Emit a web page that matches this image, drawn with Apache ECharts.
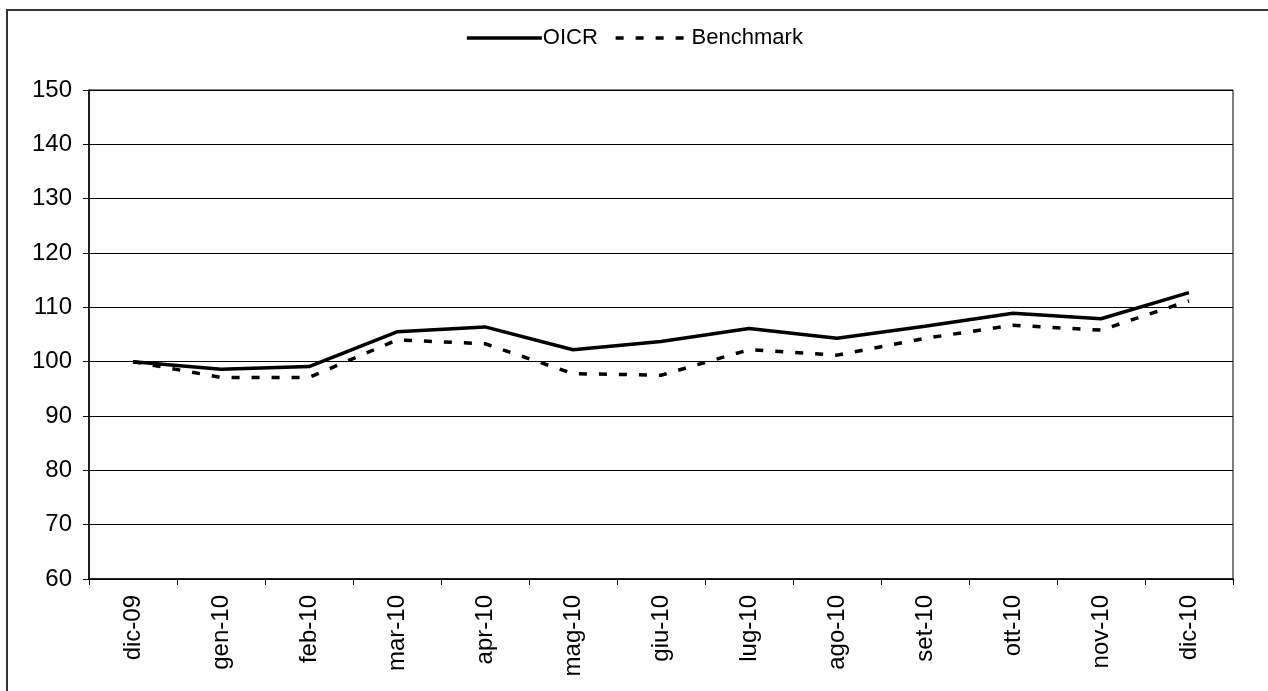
<!DOCTYPE html>
<html>
<head>
<meta charset="utf-8">
<script src="https://cdn.jsdelivr.net/npm/echarts@6/dist/echarts.min.js"></script>
<style>
html,body{margin:0;padding:0;background:#fff;}
#chart{width:1268px;height:691px;}
</style>
</head>
<body>
<div id="chart"></div>
<script>
const categories = ['dic-09','gen-10','feb-10','mar-10','apr-10','mag-10','giu-10','lug-10','ago-10','set-10','ott-10','nov-10','dic-10'];
const oicr = [100, 98.6, 99.1, 105.5, 106.4, 102.2, 103.7, 106.1, 104.3, 106.5, 108.9, 107.9, 112.7];
const benchmark = [100, 97.1, 97.1, 104.0, 103.3, 97.8, 97.5, 102.2, 101.2, 104.3, 106.7, 105.8, 111.2];
const yTicks = [60, 70, 80, 90, 100, 110, 120, 130, 140, 150];

const FONT = 'Liberation Sans, Arial, sans-serif';
const chart = echarts.init(document.getElementById('chart'), null, {renderer: 'canvas'});
chart.setOption({
  animation: false,
  backgroundColor: '#fff',
  graphic: [{
    type: 'rect',
    shape: {x: 7, y: 10, width: 1300, height: 720},
    style: {fill: 'none', stroke: '#333', lineWidth: 2},
    silent: true
  }],
  legend: {
    top: 22,
    left: 'center',
    itemWidth: 75,
    itemHeight: 10,
    itemGap: 16,
    itemStyle: {opacity: 0},
    lineStyle: {width: 3.5},
    textStyle: {fontFamily: FONT, fontSize: 22, color: '#000', padding: [0, 0, 0, -4]},
    data: ['OICR', 'Benchmark']
  },
  grid: {left: 89, right: 35, top: 90, bottom: 112, show: true, borderColor: '#000', borderWidth: 1},
  xAxis: {
    type: 'category',
    data: categories,
    boundaryGap: true,
    axisLine: {lineStyle: {color: '#000', width: 1.5}},
    axisTick: {show: true, length: 6, lineStyle: {color: '#000', width: 1}},
    axisLabel: {rotate: 90, margin: 16, fontFamily: FONT, fontSize: 24, color: '#000', interval: 0},
    splitLine: {show: false}
  },
  yAxis: {
    type: 'value',
    min: yTicks[0],
    max: yTicks[yTicks.length - 1],
    interval: 10,
    axisLine: {show: true, lineStyle: {color: '#000', width: 1.5}},
    axisTick: {show: true, length: 6, lineStyle: {color: '#000', width: 1}},
    axisLabel: {margin: 17, fontFamily: FONT, fontSize: 24, color: '#000'},
    splitLine: {show: true, lineStyle: {color: '#000', width: 1}}
  },
  series: [
    {
      name: 'OICR', type: 'line', data: oicr,
      symbol: 'none', showSymbol: false,
      lineStyle: {color: '#000', width: 3.5, type: 'solid'},
      itemStyle: {color: '#000'}
    },
    {
      name: 'Benchmark', type: 'line', data: benchmark,
      symbol: 'none', showSymbol: false,
      lineStyle: {color: '#000', width: 3.5, type: [8, 12]},
      itemStyle: {color: '#000'}
    }
  ]
});
</script>
</body>
</html>
